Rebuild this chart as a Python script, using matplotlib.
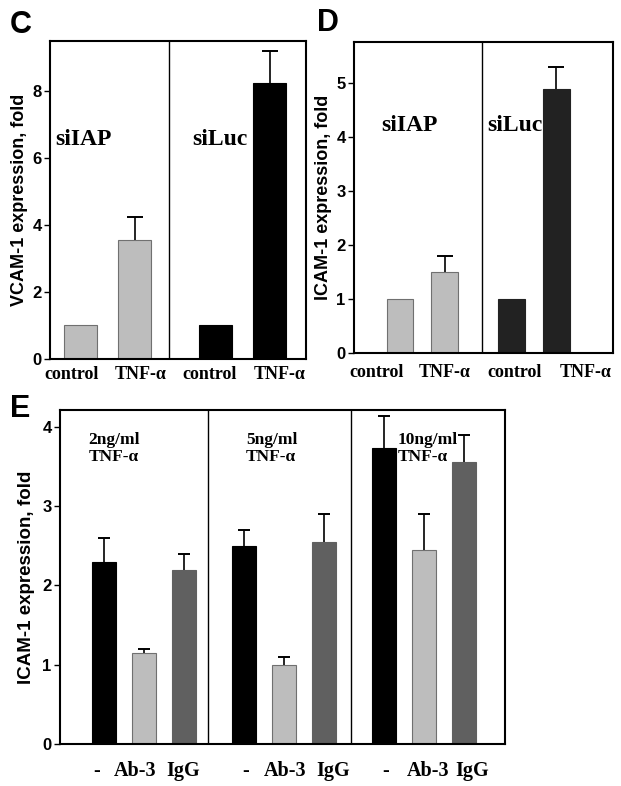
import numpy as np
import matplotlib
matplotlib.use("Agg")
import matplotlib.pyplot as plt

# panel C: VCAM-1
c_labels = ["control", "TNF-\u03b1", "control", "TNF-\u03b1"]
c_values = [1.0, 3.55, 1.0, 8.25]
c_err = [0.0, 0.68, 0.0, 0.95]
# panel D: ICAM-1
d_labels = ["control", "TNF-\u03b1", "control", "TNF-\u03b1"]
d_values = [1.0, 1.5, 1.0, 4.88]
d_err = [0.0, 0.3, 0.0, 0.42]
# panel E: ICAM-1 with antibodies
e_labels = ["-", "Ab-3", "IgG"] * 3
e_values = [2.30, 1.15, 2.20, 2.50, 1.00, 2.55, 3.73, 2.45, 3.55]
e_err = [0.30, 0.05, 0.20, 0.20, 0.10, 0.35, 0.40, 0.45, 0.35]
e_doses = ["2ng/ml\nTNF-\u03b1", "5ng/ml\nTNF-\u03b1", "10ng/ml\nTNF-\u03b1"]

sans = "Liberation Sans"
serif = "Liberation Serif"
light = "#bdbdbd"

fig = plt.figure(figsize=(6.21, 7.86), dpi=100)


def style_axes(ax, xsize=13):
    for s in ax.spines.values():
        s.set_linewidth(1.5)
    ax.tick_params(axis="y", direction="out", length=4, width=1.0, pad=2)
    ax.tick_params(axis="x", length=0, pad=5)
    for t in ax.get_yticklabels():
        t.set_fontfamily(sans)
        t.set_fontweight("bold")
        t.set_fontsize(12)
    for t in ax.get_xticklabels():
        t.set_fontfamily(serif)
        t.set_fontweight("bold")
        t.set_fontsize(xsize)


def bars(ax, x, vals, err, colors, edges, cap=12):
    ax.bar(x, vals, width=0.6, color=colors, edgecolor=edges, linewidth=0.8, zorder=2)
    x = np.asarray(x, dtype=float)
    vals = np.asarray(vals, dtype=float)
    err = np.asarray(err, dtype=float)
    m = err > 0
    # upper half error bars only
    ax.errorbar(x[m], vals[m], yerr=[np.zeros(m.sum()), err[m]], fmt="none",
                ecolor="black", elinewidth=1.2, capsize=0, zorder=3)
    ax.plot(x[m], vals[m] + err[m], ls="none", marker="_", ms=cap, mew=1.4,
            color="black", zorder=3)


# ---- C
ax = fig.add_axes([0.0805, 0.5433, 0.4122, 0.4046])
xc = np.array([1, 2, 3.5, 4.5])
bars(ax, xc, c_values, c_err, [light, light, "black", "black"],
     ["#707070", "#707070", "black", "black"])
ax.set_xlim(0.435, 5.175)
ax.set_ylim(0, 9.5)
ax.set_yticks([0, 2, 4, 6, 8])
ax.set_xticks([0.84, 2.11, 3.39, 4.68])
ax.set_xticklabels(c_labels)
ax.axvline(2.64, color="black", lw=1.0)
ax.text(1.05, 6.55, "siIAP", family=serif, weight="bold", fontsize=17, ha="center", va="center")
ax.text(3.58, 6.55, "siLuc", family=serif, weight="bold", fontsize=17, ha="center", va="center")
ax.set_ylabel("VCAM-1 expression, fold", family=sans, weight="bold", fontsize=13, labelpad=3)
style_axes(ax)
fig.text(0.016, 0.958, "C", family=sans, weight="bold", fontsize=22, va="baseline")

# ---- D
ax = fig.add_axes([0.570, 0.5513, 0.4166, 0.3953])
xd = np.array([1, 2, 3.5, 4.5])
bars(ax, xd, d_values, d_err, [light, light, "#222222", "#222222"],
     ["#707070", "#707070", "#222222", "#222222"])
ax.set_xlim(-0.03, 5.76)
ax.set_ylim(0, 5.76)
ax.set_yticks([0, 1, 2, 3, 4, 5])
ax.set_xticks([0.48, 2.0, 3.57, 5.15])
ax.set_xticklabels(d_labels)
ax.axvline(2.83, color="black", lw=1.0)
ax.text(1.22, 4.22, "siIAP", family=serif, weight="bold", fontsize=17, ha="center", va="center")
ax.text(3.57, 4.22, "siLuc", family=serif, weight="bold", fontsize=17, ha="center", va="center")
ax.set_ylabel("ICAM-1 expression, fold", family=sans, weight="bold", fontsize=13, labelpad=3)
style_axes(ax)
ax.tick_params(axis="x", pad=8)
fig.text(0.511, 0.961, "D", family=sans, weight="bold", fontsize=22, va="baseline")

# ---- E
ax = fig.add_axes([0.0966, 0.0534, 0.7166, 0.4249])
xe = np.array([1, 2, 3, 4.5, 5.5, 6.5, 8, 9, 10])
bars(ax, xe, e_values, e_err, ["black", light, "#606060"] * 3,
     ["black", "#707070", "#606060"] * 3, cap=9)
ax.set_xlim(-0.10, 11.03)
ax.set_ylim(0, 4.21)
ax.set_yticks([0, 1, 2, 3, 4])
ax.set_xticks([0.82, 1.78, 2.99, 4.54, 5.54, 6.74, 8.05, 9.1, 10.2])
ax.set_xticklabels(e_labels)
ax.axvline(3.61, color="black", lw=1.0)
ax.axvline(7.18, color="black", lw=1.0)
for xpos, txt in zip([0.61, 4.55, 8.34], e_doses):
    ax.text(xpos, 3.93, txt, family=serif, weight="bold", fontsize=12.5,
            ha="left", va="top", linespacing=1.1)
ax.set_ylabel("ICAM-1 expression, fold", family=sans, weight="bold", fontsize=13.5, labelpad=5)
style_axes(ax, xsize=14.5)
ax.tick_params(axis="x", pad=12)
fig.text(0.016, 0.4695, "E", family=sans, weight="bold", fontsize=22, va="baseline")

fig.savefig("out.png", dpi=100)
plt.close(fig)
